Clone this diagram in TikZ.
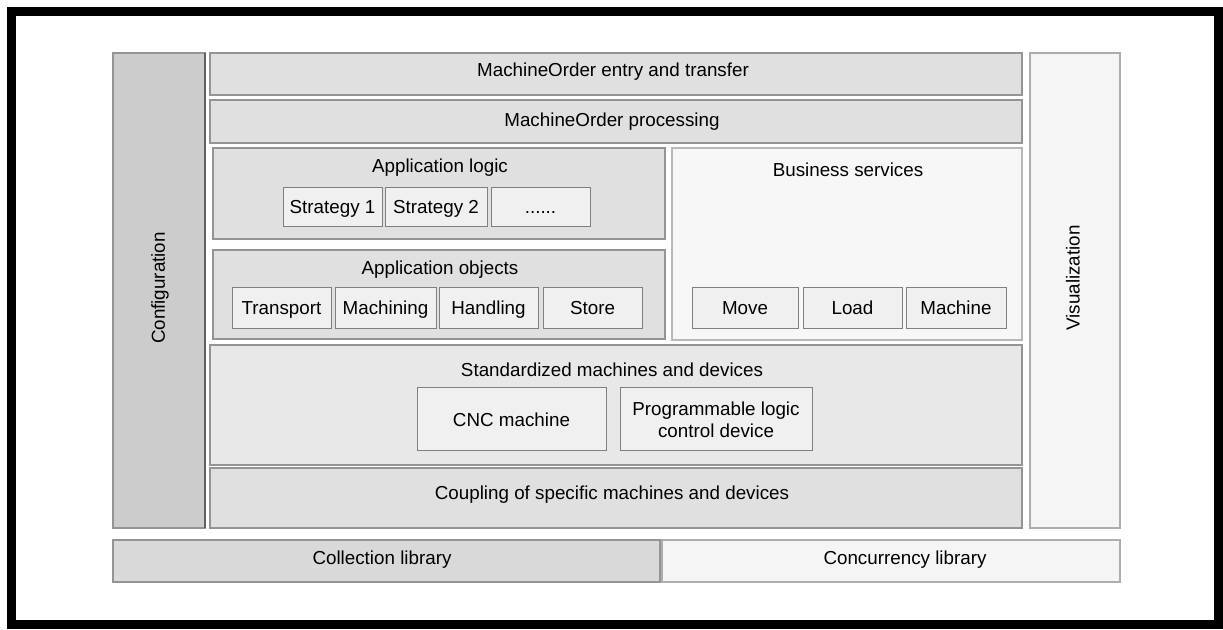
\documentclass[tikz,border=0pt]{standalone}
\usepackage{fontspec}
\setmainfont{Liberation Sans}
\tikzset{
  every node/.style={
    font=\fontsize{9.4}{11}\selectfont,
    inner sep=1.5pt
  },
  layer/.style={
    draw=black!42,
    line width=0.6pt
  },
  item/.style={
    draw=black!50,
    fill=black!6,
    line width=0.5pt
  },
  itemtext/.style={
    text height=1.6ex,
    text depth=0.4ex
  }
}

\begin{document}
\begin{tikzpicture}[x=0.5pt,y=-0.5pt]

    % size of the page
    \useasboundingbox (0,0) rectangle (1223,630);

    % parameters
    \def\xl{210}   % left edge of the inner layers
    \def\xr{1022}  % right edge of the inner layers
    \def\yt{53}    % top of the side columns
    \def\yb{528}   % bottom of the side columns

    % black frame
    \draw[line width=4.5pt] (11,12) rectangle (1218,625);

    % side columns
    \draw[layer,fill=black!20] (113,\yt) rectangle (205,\yb);
    \draw[black!62,line width=1.2pt] (205,\yt) -- (205,\yb);
    \node[rotate=90] (config) at (160,288) {Configuration};

    \draw[layer,draw=black!32,fill=black!4] (1030,\yt) rectangle (1120,\yb);
    \node[rotate=90] (visual) at (1073,278) {Visualization};

    % MachineOrder bars
    \draw[layer,fill=black!12] (\xl,\yt) rectangle (\xr,95);
    \node (entry) at (613,72) {MachineOrder entry and transfer};
    \draw[layer,fill=black!12] (\xl,100) rectangle (\xr,143);
    \node (process) at (612,122) {MachineOrder processing};

    % business services
    \draw[layer,draw=black!28,fill=black!3] (672,148) rectangle (\xr,340);
    \node (business) at (848,170) {Business services};

    % application logic
    \draw[layer,fill=black!12] (213,148) rectangle (665,239);
    \node (logic) at (440,168) {Application logic};
    \foreach \n/\xa/\xb/\t in {strat1/283/382/{Strategy 1},
                               strat2/385/487/{Strategy 2},
                               dots/491/590/{......}} {
        \draw[item] (\xa,188) rectangle (\xb,227);
        \node[itemtext] (\n) at ({(\xa+\xb)/2},207.5) {\t};
    }

    % application objects
    \draw[layer,fill=black!12] (213,250) rectangle (665,339);
    \node (objects) at (440,270) {Application objects};
    \foreach \n/\xa/\xb/\t in {transport/232/331/Transport,
                               machining/335/436/Machining,
                               handling/439/538/Handling,
                               store/543/642/Store,
                               move/692/798/Move,
                               load/803/902/Load,
                               machine/906/1006/Machine} {
        \draw[item] (\xa,288) rectangle (\xb,329);
        \node[itemtext] (\n) at ({(\xa+\xb)/2},308.5) {\t};
    }

    % machines and devices
    \draw[layer,fill=black!9] (\xl,345) rectangle (\xr,465);
    \node (standard) at (612,370) {Standardized machines and devices};
    \draw[item] (417,388) rectangle (606,451);
    \node (cnc) at (511.5,419.5) {CNC machine};
    \draw[item] (620,388) rectangle (812,451);
    \node[align=center] (plc) at (716,419.5) {Programmable logic\\control device};

    % coupling
    \draw[layer,fill=black!12] (\xl,468) rectangle (\xr,\yb);
    \node (coupling) at (612,495) {Coupling of specific machines and devices};

    % libraries
    \draw[layer,fill=black!15] (113,540) rectangle (660,582);
    \node (collect) at (382,560) {Collection library};
    \draw[layer,draw=black!32,fill=black!4] (662,540) rectangle (1120,582);
    \node (concur) at (905,560) {Concurrency library};

\end{tikzpicture}
\end{document}
